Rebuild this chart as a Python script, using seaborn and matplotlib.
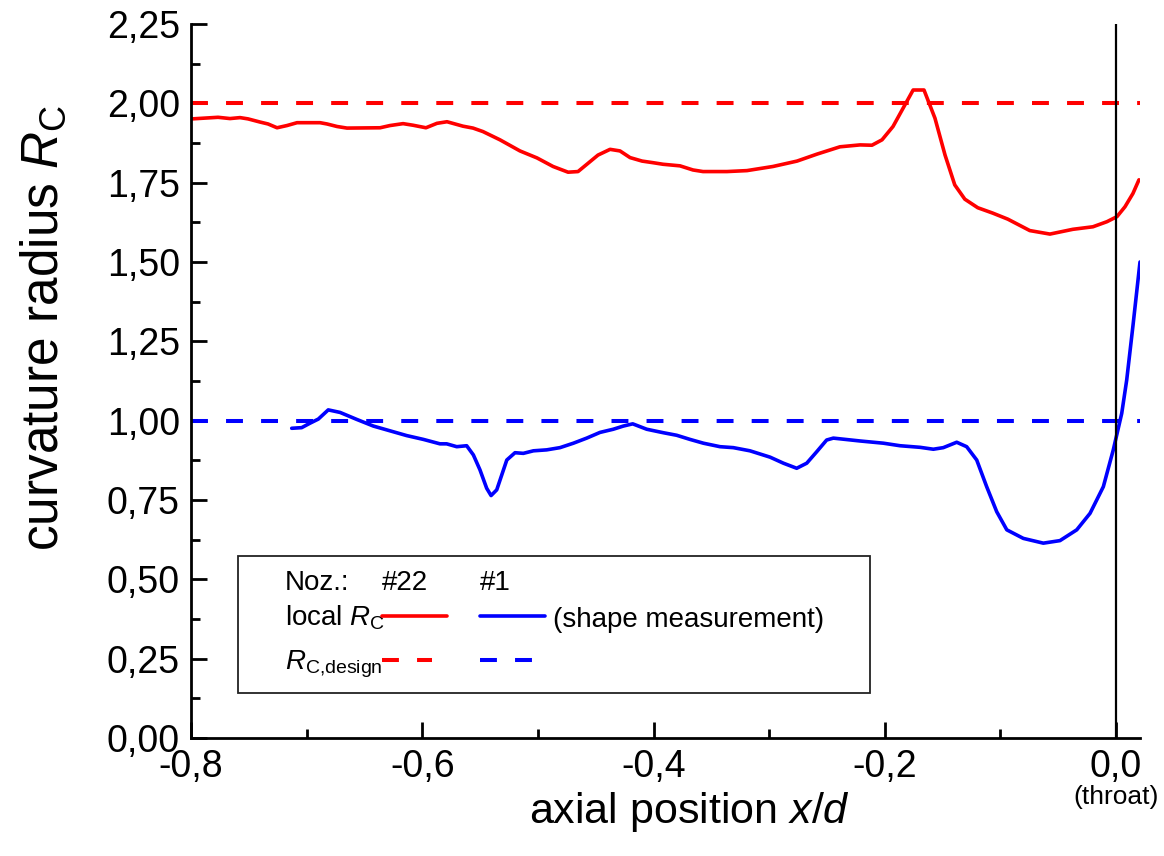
import numpy as np
import pandas as pd
import matplotlib
matplotlib.use("Agg")
import matplotlib.pyplot as plt
import seaborn as sns
from matplotlib.ticker import FuncFormatter, MultipleLocator
from matplotlib.patches import Rectangle
from matplotlib.lines import Line2D

# ---------------- data ----------------
x_noz22 = [-0.799, -0.7766, -0.7663, -0.7576, -0.7507, -0.7403, -0.7334, -0.7256, -0.7170,
           -0.7083, -0.6884, -0.6824, -0.6737, -0.6651, -0.6365, -0.6279, -0.6166, -0.6080,
           -0.5968, -0.5873, -0.5786, -0.5648, -0.5561, -0.5475, -0.5328, -0.5155, -0.5008,
           -0.4869, -0.4739, -0.4653, -0.4480, -0.4376, -0.4290, -0.4203, -0.4099, -0.4005,
           -0.3918, -0.3771, -0.3659, -0.3572, -0.3365, -0.3192, -0.2967, -0.2759, -0.2586,
           -0.2388, -0.2214, -0.2111, -0.2024, -0.1929, -0.1755, -0.1661, -0.1566, -0.1479,
           -0.1395, -0.1308, -0.1196, -0.1066, -0.0936, -0.0746, -0.0572, -0.0374, -0.0200,
           -0.0079, 0.0008, 0.0077, 0.0146, 0.0198]
rc_noz22 = [1.951, 1.956, 1.952, 1.955, 1.951, 1.941, 1.935, 1.923, 1.930,
            1.939, 1.939, 1.935, 1.927, 1.922, 1.923, 1.930, 1.936, 1.931,
            1.923, 1.937, 1.942, 1.928, 1.922, 1.911, 1.885, 1.850, 1.828,
            1.801, 1.783, 1.785, 1.837, 1.855, 1.850, 1.829, 1.818, 1.813,
            1.808, 1.803, 1.790, 1.785, 1.785, 1.788, 1.801, 1.818, 1.840,
            1.863, 1.869, 1.868, 1.885, 1.927, 2.042, 2.042, 1.953, 1.837,
            1.743, 1.698, 1.671, 1.654, 1.635, 1.599, 1.588, 1.603, 1.611,
            1.627, 1.643, 1.674, 1.716, 1.759]

x_noz1 = [-0.7129, -0.7043, -0.6971, -0.6899, -0.6813, -0.6711, -0.6567, -0.6423, -0.6279,
          -0.6135, -0.5991, -0.5847, -0.5789, -0.5702, -0.5616, -0.5558, -0.5501, -0.5443,
          -0.5405, -0.5356, -0.5269, -0.5198, -0.5126, -0.5039, -0.4924, -0.4809, -0.4693,
          -0.4578, -0.4463, -0.4348, -0.4261, -0.4180, -0.4059, -0.3915, -0.3800, -0.3685,
          -0.3569, -0.3425, -0.3310, -0.3166, -0.2992, -0.2877, -0.2762, -0.2675, -0.2589,
          -0.2503, -0.2445, -0.2214, -0.2012, -0.1868, -0.1695, -0.1580, -0.1494, -0.1378,
          -0.1292, -0.1205, -0.1119, -0.1032, -0.0945, -0.0802, -0.0629, -0.0485, -0.0340,
          -0.0225, -0.0110, -0.0024, 0.0049, 0.0092, 0.0147, 0.0207]
rc_noz1 = [0.976, 0.978, 0.992, 1.005, 1.034, 1.026, 1.004, 0.983, 0.968,
           0.953, 0.941, 0.927, 0.927, 0.918, 0.921, 0.892, 0.845, 0.787,
           0.764, 0.782, 0.876, 0.899, 0.897, 0.905, 0.908, 0.915, 0.929,
           0.945, 0.963, 0.973, 0.983, 0.990, 0.973, 0.962, 0.954, 0.941,
           0.929, 0.918, 0.915, 0.905, 0.885, 0.866, 0.850, 0.866, 0.902,
           0.939, 0.945, 0.936, 0.929, 0.921, 0.916, 0.910, 0.915, 0.932,
           0.918, 0.876, 0.792, 0.713, 0.656, 0.629, 0.614, 0.622, 0.656,
           0.708, 0.792, 0.908, 1.023, 1.128, 1.302, 1.500]

rc_design = {"#22": 2.0, "#1": 1.0}
x_ticks = [-0.8, -0.6, -0.4, -0.2, 0.0]
y_ticks = [0.0, 0.25, 0.5, 0.75, 1.0, 1.25, 1.5, 1.75, 2.0, 2.25]

# ---------------- style ----------------
sns.set_style("ticks")
plt.rcParams["font.family"] = ["Liberation Sans", "DejaVu Sans"]
plt.rcParams["mathtext.fontset"] = "custom"
plt.rcParams["mathtext.rm"] = "Liberation Sans"
plt.rcParams["mathtext.it"] = "Liberation Sans:italic"
plt.rcParams["mathtext.bf"] = "Liberation Sans:bold"
plt.rcParams["axes.unicode_minus"] = False
for k in ["text.color", "axes.labelcolor", "xtick.color", "ytick.color", "axes.edgecolor"]:
    plt.rcParams[k] = "black"

fig = plt.figure(figsize=(11.64, 8.56), dpi=100)
ax = fig.add_axes([191 / 1164, 1 - 738 / 856, 949 / 1164, 714 / 856])

df22 = pd.DataFrame({"x": x_noz22, "rc": rc_noz22})
df1 = pd.DataFrame({"x": x_noz1, "rc": rc_noz1})
sns.lineplot(data=df22, x="x", y="rc", color="#ff0000", lw=2.6, sort=False,
             estimator=None, ax=ax)
sns.lineplot(data=df1, x="x", y="rc", color="#0000ff", lw=2.6, sort=False,
             estimator=None, ax=ax)
dash = (0, (4.2, 4.5))
ax.axhline(rc_design["#22"], color="#ff0000", lw=2.9, ls=dash)
ax.axhline(rc_design["#1"], color="#0000ff", lw=2.9, ls=dash)
ax.axvline(0.0, color="black", lw=1.6)

ax.set_xlim(-0.8, 0.0207)
ax.set_ylim(0, 2.25)
ax.set_xticks(x_ticks)
ax.set_yticks(y_ticks)
ax.xaxis.set_minor_locator(MultipleLocator(0.1))
ax.yaxis.set_minor_locator(MultipleLocator(0.125))
ax.xaxis.set_major_formatter(FuncFormatter(lambda v, p: f"{v:.1f}".replace(".", ",").replace("-0,0", "0,0")))
ax.yaxis.set_major_formatter(FuncFormatter(lambda v, p: f"{v:.2f}".replace(".", ",")))
ax.tick_params(which="major", direction="in", length=11.5, width=2, labelsize=27, color="black")
ax.tick_params(which="minor", direction="in", length=6.5, width=2, color="black")
ax.tick_params(axis="x", which="major", pad=8)
ax.tick_params(axis="y", which="major", pad=8)
for s in ["top", "right"]:
    ax.spines[s].set_visible(False)
for s in ["left", "bottom"]:
    ax.spines[s].set_linewidth(2)
    ax.spines[s].set_color("black")

ax.set_xlabel("axial position $x/d$", fontsize=31)
ax.set_ylabel("curvature radius $R_\\mathrm{C}$", fontsize=37)
ax.xaxis.set_label_coords(0.525, -0.104)
ax.xaxis.label.set_va("center")
ax.yaxis.set_label_coords(-0.155, 0.574)
ax.yaxis.label.set_va("center")

ax.text(0.0, -0.083, "(throat)", transform=ax.get_xaxis_transform(), ha="center",
        va="center", fontsize=19, clip_on=False)

# ---------------- legend (manual, axes fraction) ----------------
T = ax.transAxes
ax.add_patch(Rectangle((0.0495, 0.063), 0.666, 0.192, transform=T, fill=True,
                       facecolor="white", edgecolor="#222222", lw=1.3, zorder=5))
fs = 20
ax.text(0.099, 0.207, "Noz.:", transform=T, fontsize=fs, va="baseline", zorder=6)
ax.text(0.2013, 0.207, "#22", transform=T, fontsize=fs, va="baseline", zorder=6)
ax.text(0.3045, 0.207, "#1", transform=T, fontsize=fs, va="baseline", zorder=6)
ax.text(0.099, 0.158, "local $R_\\mathrm{C}$", transform=T, fontsize=fs, va="baseline", zorder=6)
ax.text(0.3815, 0.1555, "(shape measurement)", transform=T, fontsize=fs, va="baseline", zorder=6)
ax.text(0.099, 0.0966, "$R_\\mathrm{C{,}design}$", transform=T, fontsize=fs, va="baseline", zorder=6)
ax.add_line(Line2D([0.2013, 0.2698], [0.171, 0.171], transform=T, color="#ff0000", lw=2.6, zorder=6))
ax.add_line(Line2D([0.3045, 0.373], [0.171, 0.171], transform=T, color="#0000ff", lw=2.6, zorder=6))
ax.add_line(Line2D([0.2013, 0.2540], [0.109, 0.109], transform=T, color="#ff0000", lw=2.9, ls=dash, zorder=6))
ax.add_line(Line2D([0.3045, 0.3593], [0.109, 0.109], transform=T, color="#0000ff", lw=2.9, ls=dash, zorder=6))

fig.savefig("out.png", dpi=100)
